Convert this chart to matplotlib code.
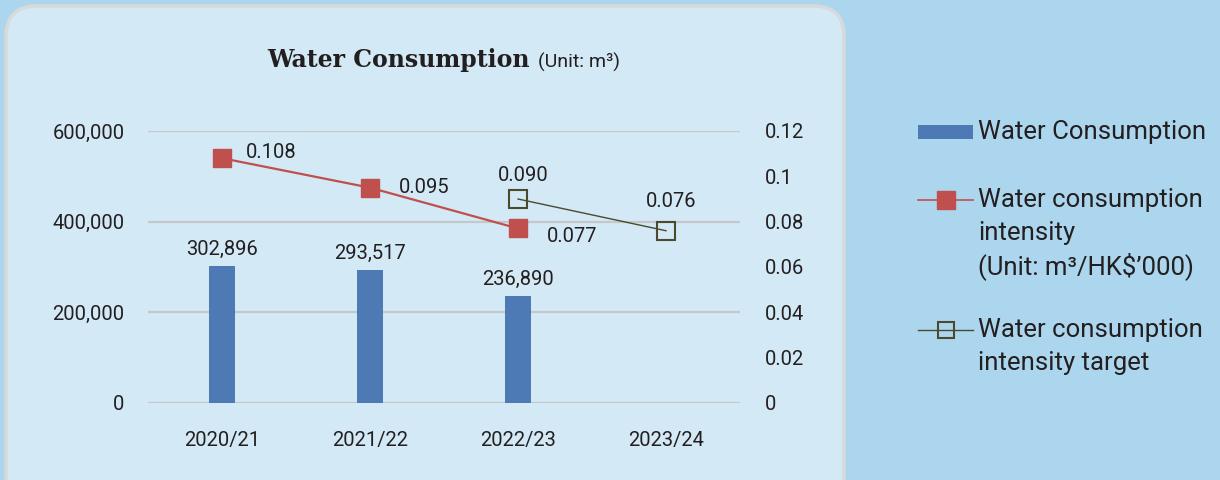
import matplotlib
matplotlib.use("Agg")
import matplotlib.pyplot as plt
from matplotlib.patches import FancyBboxPatch, Rectangle
from matplotlib.lines import Line2D
import numpy as np

categories = ["2020/21", "2021/22", "2022/23", "2023/24"]
consumption = [302896, 293517, 236890]
consumption_labels = ["302,896", "293,517", "236,890"]
intensity = [0.108, 0.095, 0.077]
intensity_labels = ["0.108", "0.095", "0.077"]
target_idx = [2, 3]
target = [0.090, 0.076]
target_labels = ["0.090", "0.076"]
left_ticks = [0, 200000, 400000, 600000]
left_tick_labels = ["0", "200,000", "400,000", "600,000"]
right_ticks = [0, 0.02, 0.04, 0.06, 0.08, 0.1, 0.12]
right_tick_labels = ["0", "0.02", "0.04", "0.06", "0.08", "0.1", "0.12"]

W, H = 1220, 480
fig = plt.figure(figsize=(W / 100, H / 100), dpi=100)
fig.patch.set_facecolor("#acd6ee")

TXT = "#231f20"
NUMFONT = dict(family="Roboto", weight="normal")
FS = 14.5

# panel
panel = FancyBboxPatch((6 / W, -40 / H), 838 / W, (H - 6 + 40) / H,
                       boxstyle="round,pad=0,rounding_size=0.025",
                       transform=fig.transFigure, facecolor="#d3e9f5",
                       edgecolor="#d6dadb", linewidth=2.5, zorder=0,
                       mutation_aspect=W / H)
fig.add_artist(panel)

ax = fig.add_axes([148 / W, 1 - 403 / H, (740 - 148) / W, (403 - 131) / H])
ax.set_facecolor("none")
ax2 = ax.twinx()

x = np.arange(len(categories))
ax.bar(x[:len(consumption)], consumption, width=0.175, color="#4d7ab5", zorder=3)
ax.set_xlim(-0.5, 3.5)
ax.set_ylim(0, 600000)
ax.set_yticks(left_ticks)
ax.set_yticklabels(left_tick_labels)
ax.set_xticks(x)
ax.set_xticklabels(categories)
ax.grid(axis="y", color="#c4c8ca", linewidth=1.6, zorder=0)
ax.set_axisbelow(True)
for s in ax.spines.values():
    s.set_visible(False)
ax.tick_params(axis="both", length=0, labelcolor=TXT, labelsize=FS)
ax.tick_params(axis="y", pad=17)
ax.tick_params(axis="x", pad=20)
for lab in ax.get_xticklabels() + ax.get_yticklabels():
    lab.set_fontfamily("Roboto"); lab.set_fontweight("normal")

for xi, v, lab in zip(x, consumption, consumption_labels):
    ax.annotate(lab, (xi, v), xytext=(0, 5), textcoords="offset points",
                ha="center", va="bottom", fontsize=FS, color=TXT, **NUMFONT)

ax2.set_ylim(0, 0.12)
ax2.set_yticks(right_ticks)
ax2.set_yticklabels(right_tick_labels)
for s in ax2.spines.values():
    s.set_visible(False)
ax2.tick_params(axis="y", length=0, labelcolor=TXT, labelsize=FS, pad=18)
for lab in ax2.get_yticklabels():
    lab.set_fontfamily("Roboto"); lab.set_fontweight("normal")

ax2.plot(x[:len(intensity)], intensity, color="#c0504d", linewidth=1.6,
         marker="s", markersize=13, markerfacecolor="#c0504d",
         markeredgecolor="#c0504d", zorder=4)
ax2.plot(target_idx, target, color="#4b4a2c", linewidth=1.0,
         marker="s", markersize=13, markerfacecolor="none",
         markeredgecolor="#4b4a2c", markeredgewidth=1.5, zorder=4)

int_offsets = [(17, 4), (21, 0), (21, -6)]
for xi, v, lab, off in zip(x, intensity, intensity_labels, int_offsets):
    ax2.annotate(lab, (xi, v), xytext=off, textcoords="offset points",
                 ha="left", va="center", fontsize=FS, color=TXT, **NUMFONT)
tgt_offsets = [(4, 17), (4, 21)]
for xi, v, lab, off in zip(target_idx, target, target_labels, tgt_offsets):
    ax2.annotate(lab, (xi, v), xytext=off, textcoords="offset points",
                 ha="center", va="center", fontsize=FS, color=TXT, **NUMFONT)

# title
fig.text(530 / W, 1 - 60 / H, "Water Consumption", ha="right", va="center",
         fontsize=17, fontweight="bold", family="DejaVu Serif", color=TXT)
fig.text(538 / W, 1 - 62 / H, "(Unit: m\u00b3)", ha="left", va="center",
         fontsize=14, color=TXT, **NUMFONT)

# legend (manual, figure pixel coords)
lax = fig.add_axes([0, 0, 1, 1], zorder=5)
lax.set_xlim(0, W); lax.set_ylim(H, 0)
lax.axis("off")
LFS = 18.5
lax.add_patch(Rectangle((918, 125), 55, 14, facecolor="#4d7ab5", edgecolor="none"))
lax.add_line(Line2D([918, 973], [200, 200], color="#c0504d", linewidth=1.2))
lax.add_line(Line2D([945.5], [200], linestyle="none", marker="s", markersize=13,
                    color="#c0504d"))
lax.add_line(Line2D([918, 973], [330, 330], color="#4b4a2c", linewidth=1.0))
lax.add_line(Line2D([945.5], [330], linestyle="none", marker="s", markersize=12,
                    markerfacecolor="none", markeredgecolor="#4b4a2c",
                    markeredgewidth=1.5))
legend_lines = [
    (132, "Water Consumption"),
    (200, "Water consumption"),
    (233, "intensity"),
    (266, "(Unit: m\u00b3/HK$\u2019000)"),
    (330, "Water consumption"),
    (363, "intensity target"),
]
for yy, t in legend_lines:
    lax.text(978, yy, t, ha="left", va="center", fontsize=LFS, color=TXT,
             family="Roboto", weight="normal")

fig.savefig("out.png", dpi=100, facecolor=fig.get_facecolor())
